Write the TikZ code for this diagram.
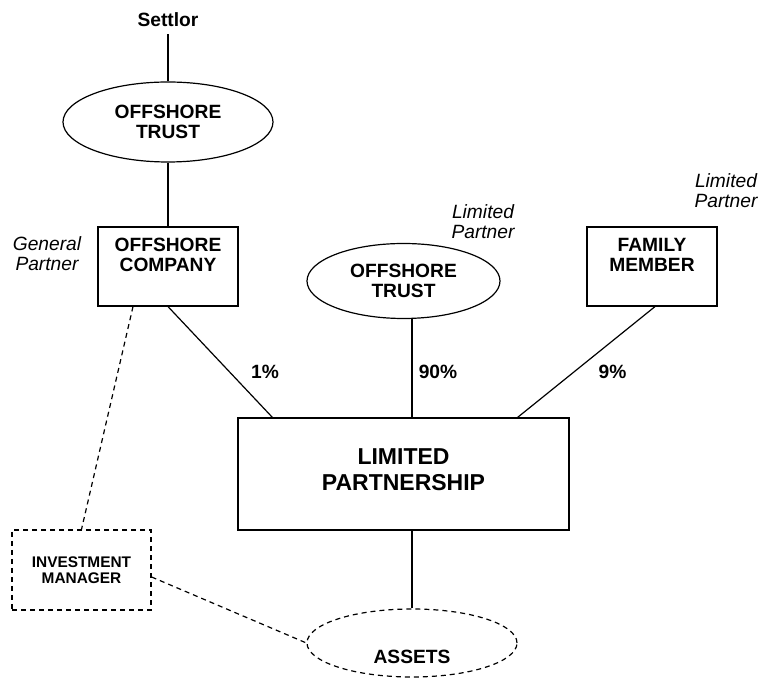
\documentclass[tikz,border=0pt]{standalone}
\usepackage{fontspec}
\setmainfont{Liberation Sans}
\usetikzlibrary{shapes.geometric}
\tikzset{base/.style={line width=0.6pt}}
\tikzset{dashline/.style={line width=0.6pt, dash pattern=on 2.5pt off 2pt}}
\tikzset{party/.style={draw, base, align=center, inner sep=2pt, font=\fontsize{9.6}{10}\selectfont\bfseries}}
\tikzset{trust/.style={party, ellipse, inner sep=0pt}}
\tikzset{role/.style={align=center, font=\fontsize{9.6}{10}\selectfont\itshape}}
\tikzset{pct/.style={font=\fontsize{9.6}{10}\selectfont\bfseries}}

\begin{document}
\begin{tikzpicture}[x=0.5pt,y=-0.5pt]
      \useasboundingbox (0,0) rectangle (760,688);
      \node[pct] (settlor) at (168,20) {Settlor};
      \node[trust, minimum width=105pt, minimum height=40pt] (trust1) at (168,122) {OFFSHORE\\TRUST};
      \node[party, minimum width=70pt, minimum height=39.5pt, text depth=11.5pt] (company) at (168,266.5) {OFFSHORE\\COMPANY};
      \node[trust, minimum width=96.5pt, minimum height=37.5pt] (trust2) at (403.5,281) {OFFSHORE\\TRUST};
      \node[party, minimum width=65pt, minimum height=39.5pt, text depth=11.5pt] (family) at (652,266.5) {FAMILY\\MEMBER};
      \node[party, font=\fontsize{11.5}{13}\selectfont\bfseries, minimum width=165.5pt, minimum height=56pt, text depth=4pt] (lp) at (403.5,474) {LIMITED\\PARTNERSHIP};
      \node[party, dashline, font=\fontsize{7.7}{8}\selectfont\bfseries, minimum width=69.5pt, minimum height=40pt] (manager) at (81.5,570) {INVESTMENT\\MANAGER};
      \node[trust, dashline, minimum width=105pt, minimum height=34pt, text height=20.9pt, text depth=0pt] (assets) at (412,643) {ASSETS};
      % roles
      \node[role] (gp) at (47,254) {General\\Partner};
      \node[role] (lim1) at (483,222) {Limited\\Partner};
      \node[role] (lim2) at (726,191) {Limited\\Partner};
      % shares
      \node[pct] (p1) at (265,372) {1\%};
      \node[pct] (p90) at (438,372) {90\%};
      \node[pct] (p9) at (612.5,372) {9\%};
      % links
      \draw[base] (settlor.south) -- (trust1.north);
      \draw[base] (trust1.south) -- (company.north);
      \draw[base] (company.south) -- ([xshift=17.5pt]lp.north west);
      \draw[base] (trust2.south -| assets.north) -- (lp.north -| assets.north);
      \draw[base] ([xshift=1.5pt]family.south) -- ([xshift=-26pt]lp.north east);
      \draw[base] (lp.south -| assets.north) -- (assets.north);
      \draw[dashline] ([xshift=-17.5pt]company.south) -- (manager.north);
      \draw[dashline] ([yshift=-3.5pt]manager.east) -- (assets.west);
\end{tikzpicture}
\end{document}
